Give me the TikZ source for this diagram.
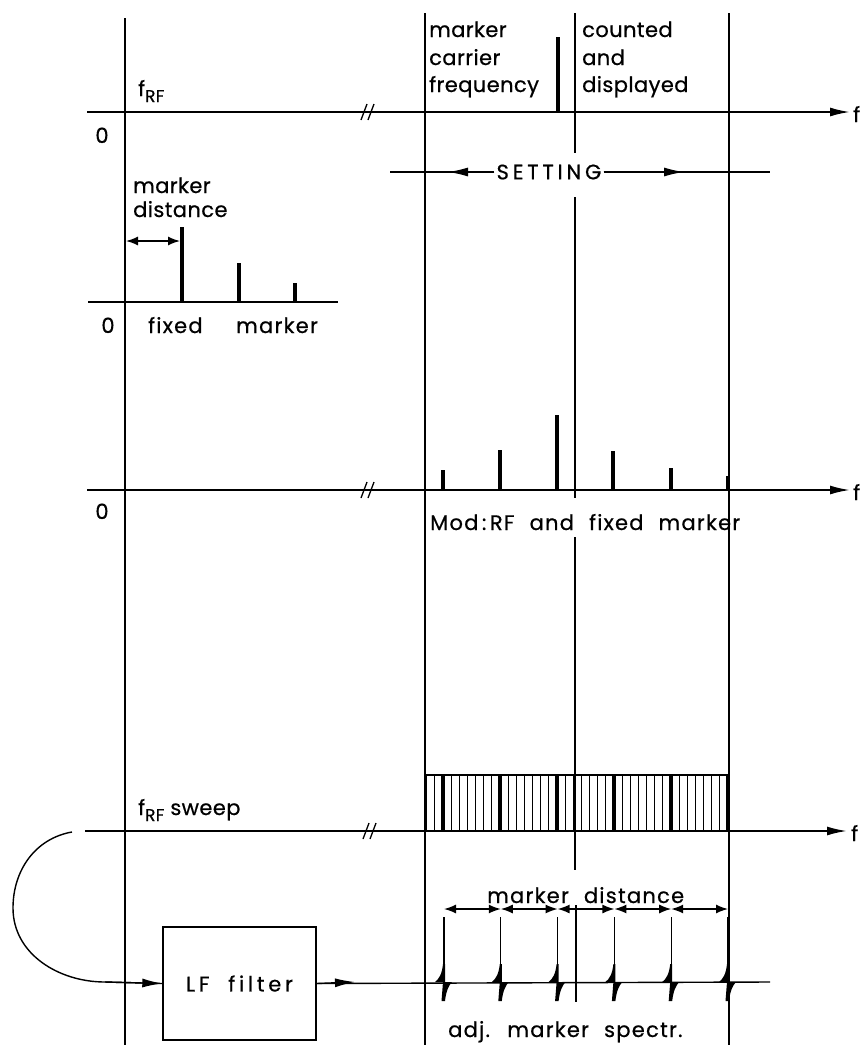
\documentclass[tikz,border=0pt]{standalone}
\usepackage{fontspec}
\setmainfont{Poppins}[FakeBold=0.6]
\newfontfamily\spfont[LetterSpace=6,WordSpace=2.2,FakeBold=0.6]{Poppins}
\newfontfamily\topfont[LetterSpace=2,FakeBold=0.6]{Poppins}
\newfontfamily\wide[LetterSpace=18,WordSpace=2,FakeBold=0.6]{Poppins}
\usetikzlibrary{arrows.meta}
\newcommand{\lab}{\fontsize{21}{26}\selectfont}
\newcommand{\sublab}[1]{\raisebox{-6pt}{\fontsize{17}{17}\selectfont #1}}
\begin{document}
\begin{tikzpicture}[x=1pt,y=-1pt,
  vl/.style={line width=1.4pt},
  ax/.style={line width=1.9pt},
  spk/.style={line width=4pt},
  thinl/.style={line width=1.1pt},
  thickl/.style={line width=3.8pt},
  arr/.style={-{Latex[length=20pt,width=9pt]}},
  dim/.style={line width=1.4pt,{Latex[length=12pt,width=9pt]}-{Latex[length=12pt,width=9pt]}},
  lbl/.style={inner sep=0pt,font=\lab\spfont},
  tlbl/.style={inner sep=0pt,font=\lab\topfont},
  brk/.style={line width=1.3pt}]
\useasboundingbox (0,0) rectangle (864,1047);

% ---------- vertical reference lines ----------
\coordinate (V0t) at (125,18);   \coordinate (V0b) at (125,1045);
\coordinate (V1t) at (425,13);   \coordinate (V1b) at (425,1045);
\coordinate (V3t) at (729,13);   \coordinate (V3b) at (729,1045);
\draw[vl] (V0t) -- (V0b);
\draw[vl] (V1t) -- (V1b);
\draw[vl] (V3t) -- (V3b);
\coordinate (M1t) at (575,13);  \coordinate (M1b) at (575,153);
\coordinate (M2t) at (575,197); \coordinate (M2b) at (575,498);
\coordinate (M3t) at (575,537); \coordinate (M3b) at (575,870);
\coordinate (M4t) at (576,905); \coordinate (M4b) at (576,1002);
\draw[vl] (M1t) -- (M1b);
\draw[vl] (M2t) -- (M2b);
\draw[vl] (M3t) -- (M3b);
\draw[vl] (M4t) -- (M4b);

% ---------- section 1 ----------
\coordinate (A1s) at (87,112); \coordinate (A1e) at (850,112);
\draw[ax,arr] (A1s) -- (A1e);
\node[tlbl,anchor=west] (f1) at (853,114) {f};
\draw[brk] (361,120) -- (367,104);
\draw[brk] (368,120) -- (374,104);
\node[tlbl,anchor=base west] (frf) at (138,96) {f\sublab{RF}};
\node[tlbl,anchor=base] (z1) at (102,143) {0};
\coordinate (S0b) at (558,112); \coordinate (S0t) at (558,37);
\draw[spk] (S0b) -- (S0t);
\node[tlbl,anchor=base west] (t1a) at (429,37) {marker};
\node[tlbl,anchor=base west] (t1b) at (429,65) {carrier};
\node[tlbl,anchor=base west] (t1c) at (429,92) {frequency};
\node[tlbl,anchor=base west] (t2a) at (582,37) {counted};
\node[tlbl,anchor=base west] (t2b) at (582,65) {and};
\node[tlbl,anchor=base west] (t2c) at (582,92) {displayed};

% SETTING
\node[inner sep=0pt,anchor=center,font=\lab\wide] (set) at (549,172) {SETTING};
\coordinate (SL) at (390,172); \coordinate (SR) at (770,172);
\coordinate (SLt) at (448,172); \coordinate (SRt) at (684,172);
\draw[vl] (SL) -- ([xshift=-2pt]set.west);
\draw[vl,arr] ([xshift=-2pt]set.west) -- (SLt);
\draw[vl] ([xshift=2pt]set.east) -- (SR);
\draw[vl,arr] ([xshift=2pt]set.east) -- (SRt);

% ---------- section 2: fixed marker ----------
\coordinate (B1s) at (88,302); \coordinate (B1e) at (338,302);
\draw[ax] (B1s) -- (B1e);
\foreach \x/\t [count=\i] in {182/227,239/263,295/283}{
  \coordinate (fm\i b) at (\x,302); \coordinate (fm\i t) at (\x,\t);
  \draw[spk] (fm\i b) -- (fm\i t);
}
\coordinate (D1a) at (126,241); \coordinate (D1b) at (180,241);
\draw[dim] (D1a) -- (D1b);
\node[tlbl,anchor=base west] (md1) at (133,193) {marker};
\node[tlbl,anchor=base west] (md2) at (133,217) {distance};
\node[tlbl,anchor=base] (z2) at (108,333) {0};
\node[lbl,anchor=base west] (fx) at (148,333) {fixed};
\node[lbl,anchor=base west] (mk) at (236,333) {marker};

% ---------- section 3: modulation ----------
\coordinate (A2s) at (87,490); \coordinate (A2e) at (850,490);
\draw[ax,arr] (A2s) -- (A2e);
\node[tlbl,anchor=west] (f2) at (853,492) {f};
\draw[brk] (361,498) -- (367,482);
\draw[brk] (368,498) -- (374,482);
\node[tlbl,anchor=base] (z3) at (102,519) {0};
\foreach \x/\t [count=\i] in {443/470,500/450,557/415,613/451,671/468,728/476}{
  \coordinate (ms\i b) at (\x,490); \coordinate (ms\i t) at (\x,\t);
  \draw[spk] (ms\i b) -- (ms\i t);
}
\node[lbl,anchor=base west] (mod) at (430,530) {Mod\,:\,RF and fixed marker};

% ---------- section 4: sweep ----------
\coordinate (A3s) at (85,831); \coordinate (A3e) at (847,831);
\draw[ax,arr] (A3s) -- (A3e);
\node[tlbl,anchor=west] (f3) at (851,833) {f};
\draw[brk] (363,839) -- (369,823);
\draw[brk] (370,839) -- (376,823);
\node[tlbl,anchor=base west] (fsw) at (138,815) {f\sublab{RF} sweep};
\coordinate (BarTL) at (425,775); \coordinate (BarTR) at (729,775);
\draw[thinl] (BarTL) -- (BarTR);
\foreach \k in {-2,...,35}{
  \draw[thinl] ({443+\k*8.143},775) -- ({443+\k*8.143},831);
}
\foreach \k in {0,...,5}{
  \draw[thickl] ({443+\k*57},775) -- ({443+\k*57},831);
}

% marker distance dimensioning
\foreach \k in {0,...,5}{
  \coordinate (tk\k) at ({444+\k*56.8},917);
  \coordinate (tb\k) at ({444+\k*56.8},982);
  \draw[thinl] (tk\k) -- (tb\k);
}
\foreach \a/\b in {0/1,1/2,2/3,3/4,4/5}{
  \draw[dim] ([yshift=8pt]tk\a) -- ([yshift=8pt]tk\b);
}
\node[lbl,anchor=base west] (mdist) at (487,903) {marker distance};

% LF filter and loop
\node[draw,line width=1.4pt,minimum width=153pt,minimum height=113pt,inner sep=0pt,font=\lab\wide] (lf) at (239.5,983.5) {LF filter};
\coordinate (C0) at (72,832);
\coordinate (C1) at (13,908);
\coordinate (C2) at (105,982);
\draw[vl] (C0) to[out=190,in=90] (C1) to[out=-90,in=180] (C2) -- (lf.west);
\draw[vl,arr] (C2) -- (lf.west);
\coordinate (TrE) at (770,982);
\draw[vl] (lf.east) -- (TrE);
\coordinate (LFa) at (355,982);
\draw[vl,arr] (lf.east) -- (LFa);
% pulses on the filtered trace
\foreach \k in {0,...,5}{
  \pgfmathsetmacro{\px}{444+\k*56.8}
  \fill (\px-9,982) .. controls (\px-5,979) and (\px-2,974) .. (\px-1,964) -- (\px+1,964) -- (\px+1,982) -- cycle;
  \fill (\px-1,982) -- (\px+8,982) .. controls (\px+5,985) and (\px+2,991) .. (\px+1,1001) -- (\px-2.5,1001) -- cycle;
}
\node[lbl,anchor=base west] (adj) at (448,1037) {adj. marker spectr.};
\end{tikzpicture}
\end{document}
